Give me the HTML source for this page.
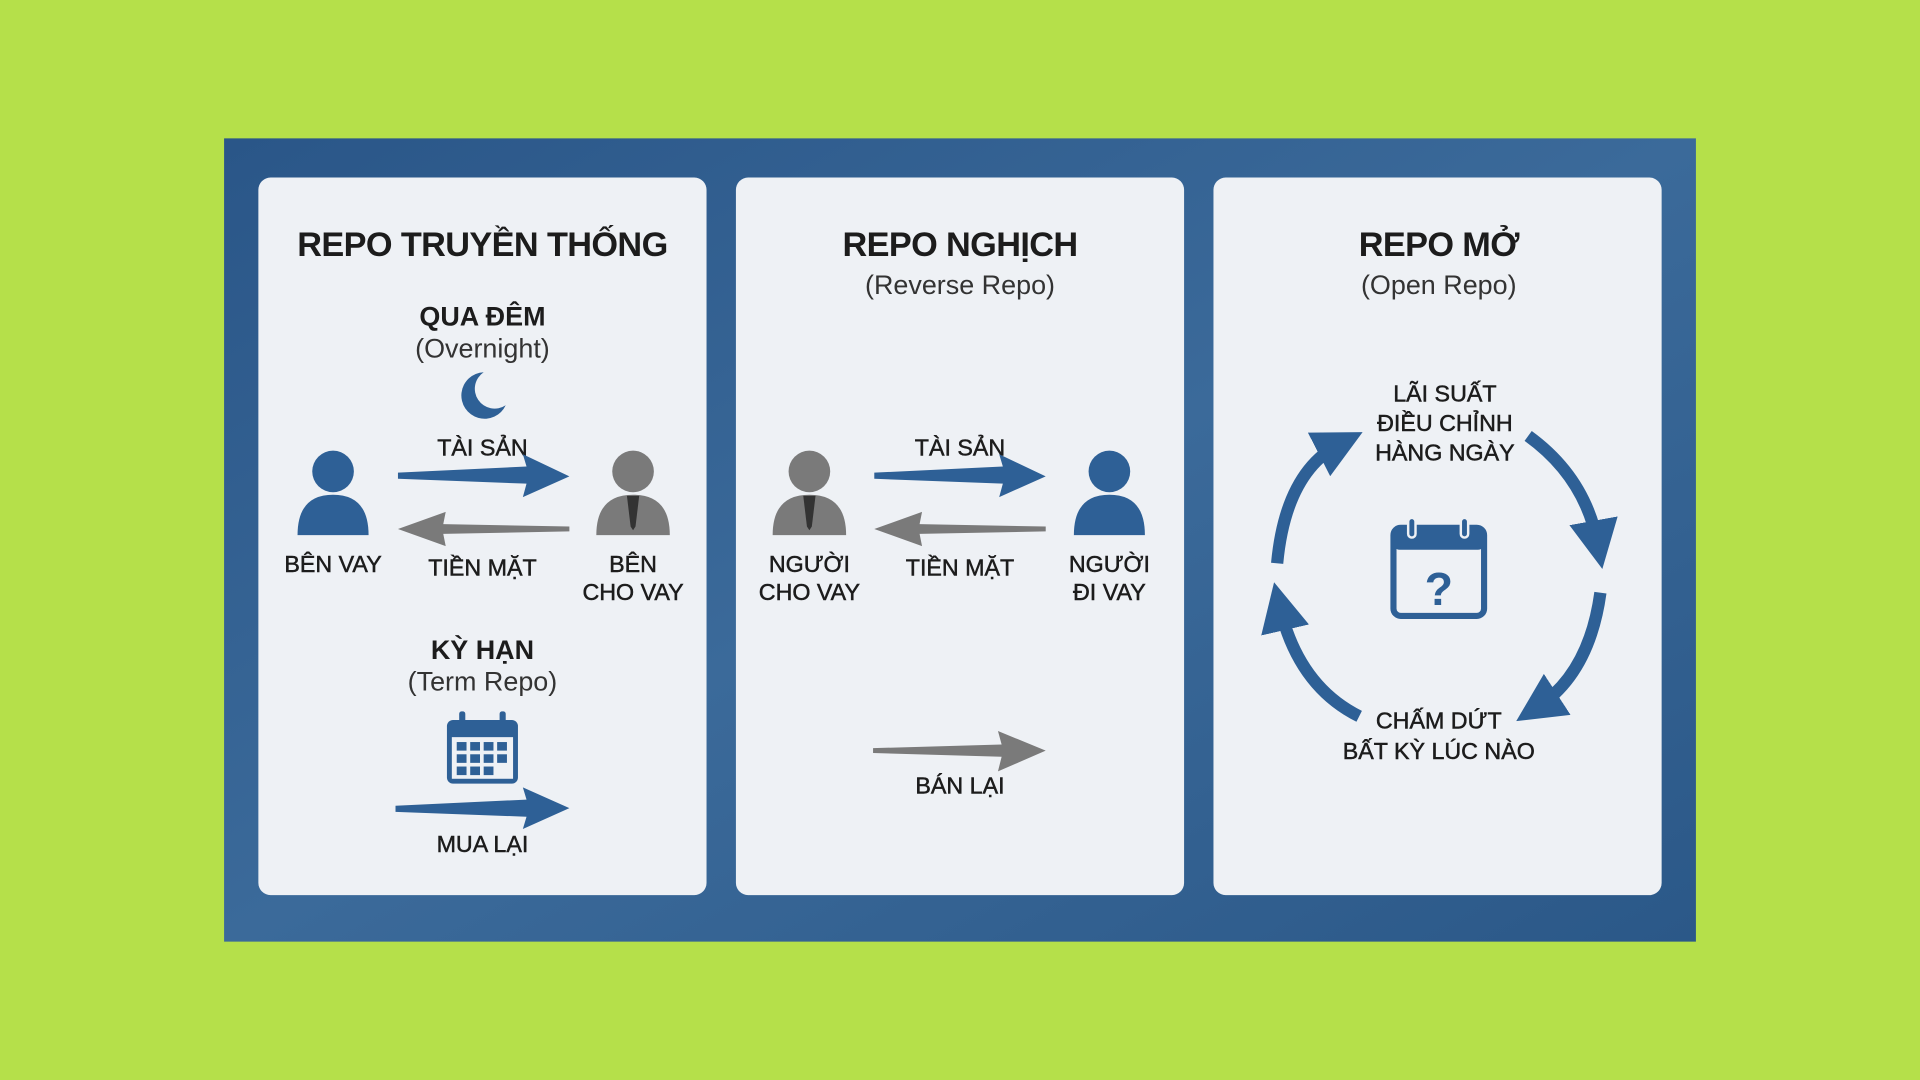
<!DOCTYPE html>
<html><head><meta charset="utf-8"><style>
html,body{margin:0;padding:0;background:#b5e04a;}
svg{display:block}
text{font-family:"Liberation Sans",sans-serif;fill:#1c1c1c;text-anchor:middle}
.t{font-size:28px;font-weight:bold;letter-spacing:-0.5px}
.s{font-size:22px;fill:#333}
.l{font-size:19px;stroke:#1c1c1c;stroke-width:0.4}
.b{font-size:22px;font-weight:bold}
</style></head><body>
<svg width="1920" height="1080" viewBox="0 0 1568 882" xmlns="http://www.w3.org/2000/svg">
<defs>
<linearGradient id="bg" x1="0" y1="0" x2="1" y2="1"><stop offset="0" stop-color="#2a5688"/><stop offset="0.5" stop-color="#3b6a9a"/><stop offset="1" stop-color="#2b5888"/></linearGradient>
<marker id="ah" viewBox="0 0 10 10" refX="5" refY="5" markerWidth="4" markerHeight="4" orient="auto"><path d="M0,0 L10,5 L0,10 z" fill="#2e6096"/></marker>
</defs>
<rect width="1568" height="882" fill="#b5e04a"/>
<rect x="183" y="113" width="1202" height="656" fill="url(#bg)"/>
<rect x="211" y="145" width="366" height="586" rx="10" fill="#eef1f5"/>
<rect x="601" y="145" width="366" height="586" rx="10" fill="#eef1f5"/>
<rect x="991" y="145" width="366" height="586" rx="10" fill="#eef1f5"/>

<!-- Card 1 -->
<text x="394" y="209" class="t">REPO TRUYỀN THỐNG</text>
<text x="394" y="266" class="b">QUA ĐÊM</text>
<text x="394" y="292" class="s">(Overnight)</text>
<path d="M395,304 A19,19 0 1 0 413,331 A15,15 0 1 1 395,304z" fill="#2e6096"/>
<text x="394" y="372" class="l">TÀI SẢN</text>
<g fill="#2e6096"><circle cx="272" cy="385" r="17"/><path d="M243,437 Q243,404 272,404 Q301,404 301,437z"/></g>
<g fill="#7a7a7a"><circle cx="517" cy="385" r="17"/><path d="M487,437 Q487,404 517,404 Q547,404 547,437z"/></g>
<path d="M512,405 L522,405 L519,430 L517,433 L515,430z" fill="#333"/>
<polygon points="325,386 430,381 427,371 465,389 427,406 430,395 325,391" fill="#2e6096"/>
<polygon points="465,430 362,428 364,418 325,432 364,446 362,436 465,434" fill="#7a7a7a"/>
<text x="272" y="467" class="l">BÊN VAY</text>
<text x="394" y="470" class="l">TIỀN MẶT</text>
<text x="517" y="467" class="l">BÊN</text>
<text x="517" y="490" class="l">CHO VAY</text>
<text x="394" y="538" class="b">KỲ HẠN</text>
<text x="394" y="564" class="s">(Term Repo)</text>
<rect x="365" y="588" width="58" height="52" rx="5" fill="#2e6096"/>
<rect x="369" y="602" width="50" height="34" fill="#eef1f5"/>
<rect x="375" y="581" width="5" height="12" rx="2" fill="#2e6096"/><rect x="408" y="581" width="5" height="12" rx="2" fill="#2e6096"/>
<g fill="#2e6096"><rect x="373" y="606" width="8" height="7"/><rect x="384" y="606" width="8" height="7"/><rect x="395" y="606" width="8" height="7"/><rect x="406" y="606" width="8" height="7"/><rect x="373" y="616" width="8" height="7"/><rect x="384" y="616" width="8" height="7"/><rect x="395" y="616" width="8" height="7"/><rect x="406" y="616" width="8" height="7"/><rect x="373" y="626" width="8" height="7"/><rect x="384" y="626" width="8" height="7"/><rect x="395" y="626" width="8" height="7"/></g>
<polygon points="323,658 430,653 427,643 465,660 427,677 430,667 323,663" fill="#2e6096"/>
<text x="394" y="696" class="l">MUA LẠI</text>

<!-- Card 2 -->
<text x="784" y="209" class="t">REPO NGHỊCH</text>
<text x="784" y="240" class="s">(Reverse Repo)</text>
<text x="784" y="372" class="l">TÀI SẢN</text>
<g fill="#7a7a7a"><circle cx="661" cy="385" r="17"/><path d="M631,437 Q631,404 661,404 Q691,404 691,437z"/></g>
<path d="M656,405 L666,405 L663,430 L661,433 L659,430z" fill="#333"/>
<g fill="#2e6096"><circle cx="906" cy="385" r="17"/><path d="M877,437 Q877,404 906,404 Q935,404 935,437z"/></g>
<polygon points="714,386 819,381 816,371 854,389 816,406 819,395 714,391" fill="#2e6096"/>
<polygon points="854,430 751,428 753,418 714,432 753,446 751,436 854,434" fill="#7a7a7a"/>
<text x="661" y="467" class="l">NGƯỜI</text>
<text x="661" y="490" class="l">CHO VAY</text>
<text x="784" y="470" class="l">TIỀN MẶT</text>
<text x="906" y="467" class="l">NGƯỜI</text>
<text x="906" y="490" class="l">ĐI VAY</text>
<polygon points="713,611 818,608 815,597 854,613 815,630 818,618 713,615" fill="#7a7a7a"/>
<text x="784" y="648" class="l">BÁN LẠI</text>

<!-- Card 3 -->
<text x="1175" y="209" class="t">REPO MỞ</text>
<text x="1175" y="240" class="s">(Open Repo)</text>
<text x="1180" y="328" class="l">LÃI SUẤT</text>
<text x="1180" y="352" class="l">ĐIỀU CHỈNH</text>
<text x="1180" y="376" class="l">HÀNG NGÀY</text>
<text x="1175" y="595" class="l">CHẤM DỨT</text>
<text x="1175" y="620" class="l">BẤT KỲ LÚC NÀO</text>
<g fill="none" stroke="#2e6096" stroke-width="10" marker-end="url(#ah)">
<path d="M1043,460 Q1050,385 1095,362"/>
<path d="M1248,356 Q1295,390 1305,445"/>
<path d="M1307,484 Q1298,550 1255,578"/>
<path d="M1110,585 Q1060,560 1045,495"/>
</g>
<rect x="1138" y="431" width="74" height="72" rx="6" fill="none" stroke="#2e6096" stroke-width="5"/>
<rect x="1138" y="431" width="74" height="18" rx="5" fill="#2e6096"/>
<rect x="1150" y="423" width="6" height="16" rx="3" fill="#2e6096" stroke="#eef1f5" stroke-width="2"/>
<rect x="1193" y="423" width="6" height="16" rx="3" fill="#2e6096" stroke="#eef1f5" stroke-width="2"/>
<text x="1175" y="494" style="font-size:38px;font-weight:bold;fill:#2e6096">?</text>
</svg>
</body></html>
